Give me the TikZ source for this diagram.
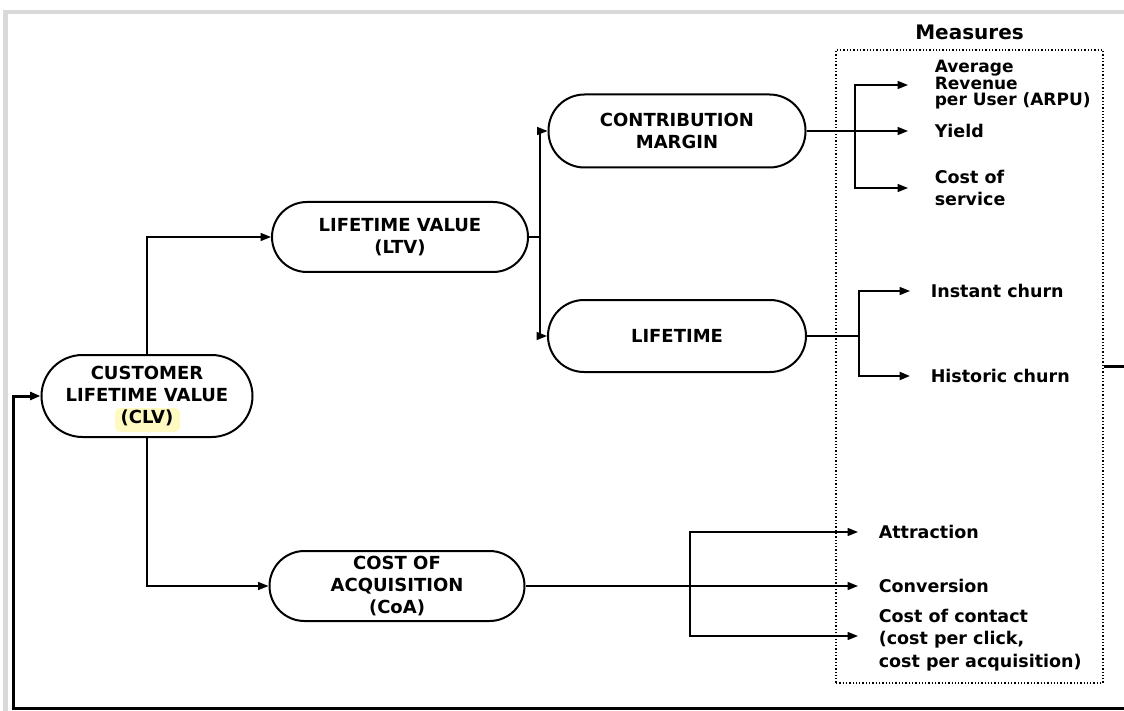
\documentclass[tikz,border=0pt]{standalone}
\usepackage{fontspec}
\setmainfont{DejaVu Sans}
\usetikzlibrary{arrows.meta,positioning}
\definecolor{clvyellow}{HTML}{FFFAC2}
\definecolor{framegray}{HTML}{D9D9D9}

\begin{document}
\begin{tikzpicture}[x=1pt, y=-1pt, line width=1.6pt,
    >={Triangle[length=10.5pt,width=8pt]},
    term/.style={draw, line width=2pt, align=center, font=\fontsize{18}{22}\selectfont\bfseries},
    leaf/.style={anchor=west, inner sep=0pt, align=left, font=\fontsize{17.5}{22.5}\selectfont\bfseries},
    backline/.style={line width=3pt}]
        \path[use as bounding box] (0,0) rectangle (1124,711);
        \clip (0,0) rectangle (1124,711);
        % screenshot frame
        \fill[framegray] (3,10) rectangle (1124,14);
        \fill[framegray] (3,10) rectangle (8,711);

        \fill[clvyellow, rounded corners=5pt] (115,408) rectangle (180,432);
        \node[term, minimum width=211pt, minimum height=82pt, rounded corners=41pt] (clv) at (147,396) {CUSTOMER\\LIFETIME VALUE\\(CLV)};
        \node[term, minimum width=256pt, minimum height=70pt, rounded corners=35pt] (ltv) at (400,237) {LIFETIME VALUE\\(LTV)};
        \node[term, minimum width=257pt, minimum height=73pt, rounded corners=36pt] (cm) at (677,131) {CONTRIBUTION\\MARGIN};
        \node[term, minimum width=258pt, minimum height=72pt, rounded corners=36pt] (life) at (677,336) {LIFETIME};
        \node[term, minimum width=255pt, minimum height=70pt, rounded corners=35pt] (coa) at (397,586) {COST OF\\ACQUISITION\\(CoA)};

        \node[draw, dotted, line width=1.3pt, minimum width=267pt, minimum height=633pt, inner sep=0pt] (meas) at (969.5,366.5) {};
        \node[inner sep=0pt, font=\fontsize{20}{24}\selectfont\bfseries, above=9pt of meas.north] (mhead) {Measures};

        \node[leaf, font=\fontsize{17}{16.5}\selectfont\bfseries] (arpu) at (934,85) {Average\\Revenue\\per User (ARPU)};
        \node[leaf] (yield) at (934,131) {Yield};
        \node[leaf] (serv) at (934,188) {Cost of\\service};
        \node[leaf] (inst) at (930,291) {Instant churn};
        \node[leaf] (hist) at (930,376) {Historic churn};
        \node[leaf] (attr) at (878,532) {Attraction};
        \node[leaf] (conv) at (878,586) {Conversion};
        \node[leaf] (coc) at (878,640) {Cost of contact\\(cost per click,\\cost per acquisition)};

        \coordinate (ltvsplit) at (540,237);
        \coordinate (cmsplit) at (855,131);
        \coordinate (lifesplit) at (859,336);
        \coordinate (coasplit) at (690,586);
        \coordinate (backcorner) at (13,708);

        \draw[->] (clv.north) |- (ltv.west);
        \draw[->] (clv.south) |- (coa.west);
        \draw (ltv.east) -- (ltvsplit);
        \draw[->] (ltvsplit) |- (cm.west);
        \draw[->] (ltvsplit) |- (life.west);

        \draw[line width=2.4pt] (cm.east) -- (cmsplit);
        \draw[->] (cmsplit) |- ([xshift=-26pt]arpu.west);
        \draw[->] (cmsplit) -- ([xshift=-26pt]yield.west);
        \draw[->] (cmsplit) |- ([xshift=-26pt]serv.west);

        \draw (life.east) -- (lifesplit);
        \draw[->] (lifesplit) |- ([xshift=-20pt]inst.west);
        \draw[->, line width=2.2pt] (lifesplit) |- ([xshift=-20pt]hist.west);

        \draw[->] (coa.east) -- ([xshift=-20pt]conv.west);
        \draw[->] (coasplit) |- ([xshift=-20pt]attr.west);
        \draw[->] (coasplit) |- ([xshift=-20pt,yshift=4pt]coc.west);

        % feedback into CLV
        \draw[backline, ->] (meas.east) -- ++(40,0) |- (backcorner) |- (clv.west);
    \end{tikzpicture}
\end{document}
